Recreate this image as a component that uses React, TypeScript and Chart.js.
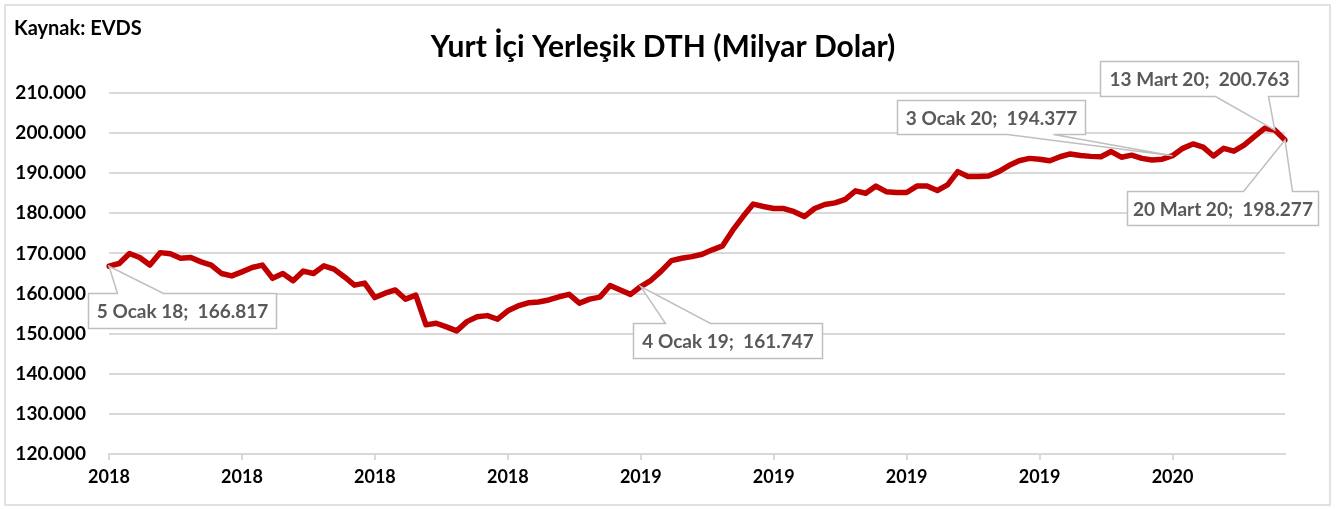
import React, { useEffect, useRef } from 'react';
import { Chart, registerables } from 'chart.js';

Chart.register(...registerables);

// ---- data ----
const MONTHS_TR = ['Ocak', 'Şubat', 'Mart', 'Nisan', 'Mayıs', 'Haziran', 'Temmuz', 'Ağustos', 'Eylül', 'Ekim', 'Kasım', 'Aralık'];

// Weekly values (Milyar Dolar), 5 Jan 2018 .. 20 Mar 2020
const values2018 = [
  166.817, 167.5, 170.0, 169.0, 167.1, 170.2, 169.9, 168.8, 169.0, 167.9,
  167.1, 165.0, 164.4, 165.4, 166.5, 167.1, 163.8, 165.0, 163.2, 165.6,
  165.0, 166.9, 166.1, 164.2, 162.1, 162.6, 159.0, 160.1, 160.9, 158.6,
  159.6, 152.2, 152.6, 151.7, 150.7, 153.0, 154.2, 154.5, 153.6, 155.7,
  156.9, 157.7, 157.9, 158.4, 159.2, 159.8, 157.6, 158.6, 159.1, 162.0,
  160.9, 159.8,
];
const values2019 = [
  161.747, 163.3, 165.6, 168.2, 168.8, 169.2, 169.8, 170.9, 171.9, 175.8,
  179.2, 182.3, 181.7, 181.2, 181.2, 180.4, 179.2, 181.2, 182.2, 182.6,
  183.5, 185.6, 185.0, 186.8, 185.4, 185.2, 185.2, 186.8, 186.8, 185.7,
  187.1, 190.4, 189.2, 189.2, 189.3, 190.4, 191.9, 193.1, 193.7, 193.5,
  193.1, 194.1, 194.8, 194.4, 194.2, 194.1, 195.4, 194.0, 194.5, 193.7,
  193.3, 193.5,
];
const values2020 = [
  194.377, 196.2, 197.3, 196.5, 194.3, 196.2, 195.5, 197.0, 199.1, 201.2,
  200.763, 198.277,
];
const values = [...values2018, ...values2019, ...values2020];

// Category dates: every Friday starting 5 Ocak 2018
const dates: Date[] = values.map((_, i) => new Date(2018, 0, 5 + 7 * i));
const labels = dates.map(
  (d) => `${d.getDate()} ${MONTHS_TR[d.getMonth()]} ${String(d.getFullYear()).slice(2)}`
);

const tickIndices = [0, 13, 26, 39, 52, 65, 78, 91, 104];
const yMin = 120;
const yMax = 210;
const yStep = 10;

const TITLE = 'Yurt İçi Yerleşik DTH (Milyar Dolar)';
const SOURCE = 'Kaynak: EVDS';

// Callout labels (index into data) with box placement relative to point
const callouts = [
  { index: 0, dx: -21, dy: 27, w: 188, h: 35, side: 'top', a: 29, b: 75 },
  { index: 52, dx: -8, dy: 36, w: 189, h: 35, side: 'top', a: 32, b: 77 },
  { index: 104, dx: -276, dy: -56, w: 188, h: 34, side: 'bottom', a: 110, b: 156 },
  { index: 114, dx: -175, dy: -69, w: 198, h: 35, side: 'bottom', a: 115, b: 168 },
  { index: 115, dx: -158, dy: 51, w: 191, h: 34, side: 'top', a: 116, b: 165 },
];

const FONT = 'Lato, "Open Sans", sans-serif';

const decorPlugin = {
  id: 'decor',
  beforeDraw(chart: any) {
    const ctx = chart.ctx;
    ctx.save();
    ctx.fillStyle = '#ffffff';
    ctx.fillRect(0, 0, chart.width, chart.height);
    ctx.strokeStyle = '#d9d9d9';
    ctx.lineWidth = 1.5;
    ctx.strokeRect(5, 5, 1325, 500);
    ctx.fillStyle = '#000000';
    ctx.textBaseline = 'alphabetic';
    ctx.font = `bold 20px ${FONT}`;
    ctx.textAlign = 'left';
    ctx.fillText(SOURCE, 14, 35);
    ctx.font = `bold 30px ${FONT}`;
    ctx.textAlign = 'center';
    ctx.fillText(TITLE, 663, 57);
    ctx.restore();
  },
  afterDatasetsDraw(chart: any) {
    const ctx = chart.ctx;
    const meta = chart.getDatasetMeta(0);
    ctx.save();
    for (const c of callouts) {
      const pt = meta.data[c.index];
      const px = pt.x;
      const py = pt.y;
      const L = Math.round(px + c.dx) + 0.5;
      const T = Math.round(py + c.dy) + 0.5;
      const R = L + c.w;
      const B = T + c.h;
      ctx.beginPath();
      if (c.side === 'top') {
        ctx.moveTo(L, T);
        ctx.lineTo(L + c.a, T);
        ctx.lineTo(px, py);
        ctx.lineTo(L + c.b, T);
        ctx.lineTo(R, T);
        ctx.lineTo(R, B);
        ctx.lineTo(L, B);
      } else {
        ctx.moveTo(L, T);
        ctx.lineTo(R, T);
        ctx.lineTo(R, B);
        ctx.lineTo(L + c.b, B);
        ctx.lineTo(px, py);
        ctx.lineTo(L + c.a, B);
        ctx.lineTo(L, B);
      }
      ctx.closePath();
      ctx.fillStyle = '#ffffff';
      ctx.fill();
      ctx.strokeStyle = '#bfbfbf';
      ctx.lineWidth = 1.5;
      ctx.stroke();
      const text = `${labels[c.index]};  ${values[c.index].toFixed(3)}`;
      ctx.fillStyle = '#595959';
      ctx.font = `bold 19px ${FONT}`;
      ctx.textAlign = 'center';
      ctx.textBaseline = 'middle';
      ctx.fillText(text, (L + R) / 2, (T + B) / 2 + 1);
    }
    ctx.restore();
  },
};

export default function App() {
  const ref = useRef<HTMLCanvasElement | null>(null);
  useEffect(() => {
    document.body.style.margin = '0';
    const canvas = ref.current!;
    const chart = new Chart(canvas, {
      type: 'line',
      data: {
        labels,
        datasets: [
          {
            data: values,
            borderColor: '#C00000',
            borderWidth: 5.5,
            pointRadius: 0,
            tension: 0,
            fill: false,
            borderJoinStyle: 'round',
            borderCapStyle: 'round',
          },
        ],
      },
      options: {
        animation: false,
        responsive: false,
        devicePixelRatio: 1,
        layout: { padding: { left: 0, right: 53, top: 93, bottom: 0 } },
        plugins: { legend: { display: false }, tooltip: { enabled: false }, title: { display: false } },
        scales: {
          x: {
            type: 'category',
            offset: false,
            grid: { display: true, drawOnChartArea: false, drawTicks: true, tickLength: 6, color: '#d9d9d9', lineWidth: 2 },
            border: { display: true, color: '#d9d9d9', width: 2 },
            ticks: {
              autoSkip: false,
              maxRotation: 0,
              minRotation: 0,
              padding: 6,
              color: '#000000',
              font: { family: FONT, size: 18, weight: 'bold' },
              callback: (value: any) => String(dates[Number(value)].getFullYear()),
            },
            afterBuildTicks: (axis: any) => {
              axis.ticks = axis.ticks.filter((t: any) => tickIndices.includes(t.value));
            },
            afterFit: (scale: any) => {
              scale.height = 55;
            },
          },
          y: {
            min: yMin,
            max: yMax,
            grid: { color: '#d9d9d9', lineWidth: 2, drawTicks: false },
            border: { display: false },
            ticks: {
              stepSize: yStep,
              padding: 23,
              color: '#000000',
              font: { family: FONT, size: 19, weight: 'bold' },
              callback: (v: any) => Number(v).toFixed(3),
            },
            afterFit: (scale: any) => {
              scale.width = 109;
            },
          },
        },
      },
      plugins: [decorPlugin],
    } as any);
    return () => chart.destroy();
  }, []);
  return <canvas ref={ref} width={1338} height={509} style={{ display: 'block' }} />;
}
